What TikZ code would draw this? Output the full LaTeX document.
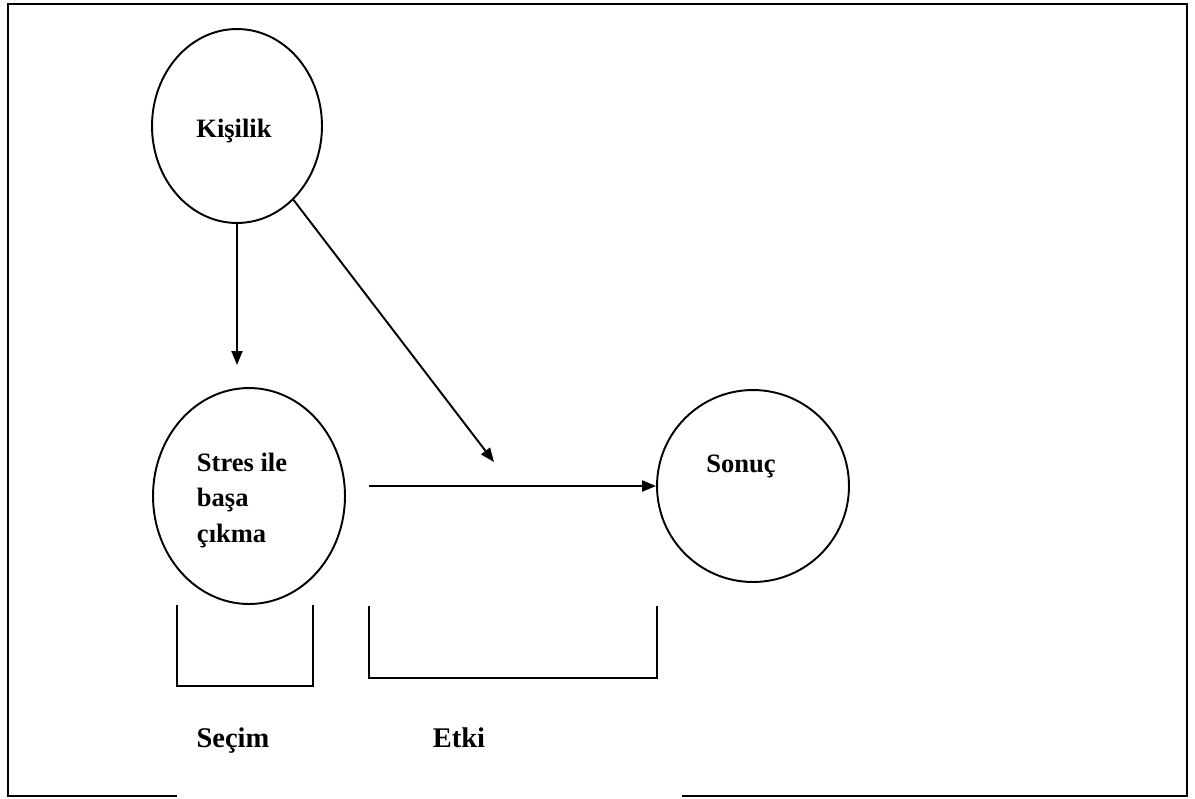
\documentclass[tikz,border=0pt]{standalone}
\usepackage{fontspec}
\setmainfont{Liberation Serif}
\usetikzlibrary{positioning,shapes,arrows.meta}

\begin{document}
\begin{tikzpicture}
[x=0.02cm, y=-0.02cm, line width=1.1pt,
 bubble/.style={draw, shape=ellipse, inner sep=0pt},
 word/.style={font=\fontsize{15.1pt}{20.1pt}\selectfont\bfseries, inner sep=0pt, align=left},
 tag/.style={font=\fontsize{16.2pt}{20pt}\selectfont\bfseries, inner sep=0pt, anchor=base},
 arrowk/.style={-{Triangle[length=0.28cm,width=0.22cm]}, line width=1.1pt}]
\useasboundingbox (0,0) rectangle (1195,798);
% frame, open at the bottom
\draw (177,796) -- (8,796) -- (8,4) -- (1187,4) -- (1187,796) -- (682,796);
\node[bubble, minimum width=3.4cm, minimum height=3.88cm] (kisilik) at (237,126) {};
\node[word, anchor=base] (kisiliktext) at (234,137) {Kişilik};
\node[bubble, minimum width=3.84cm, minimum height=4.32cm] (stres) at (249,496) {};
\node[word, anchor=north west] (strestext) at (196,452) {Stres ile\\başa\\çıkma};
\node[bubble, shape=circle, minimum size=3.84cm] (sonuc) at (753,486) {};
\node[word, anchor=base] (sonuctext) at (741,472) {Sonuç};
% free ends
\coordinate (downtip) at (237,365);
\coordinate (diagtip) at (494,462);
\coordinate (flowstart) at (369,486);
\draw[arrowk] (kisilik) -- (downtip);
\draw[arrowk] (kisilik) -- (diagtip);
\draw[arrowk] (flowstart) -- (sonuc);
% brackets
\draw (177,605) -- (177,686) -- (313,686) -- (313,605);
\draw (369,606) -- (369,678) -- (657,678) -- (657,606);
\node[tag] (secim) at (233,747) {Seçim};
\node[tag] (etki) at (459,747) {Etki};
\end{tikzpicture}
\end{document}
